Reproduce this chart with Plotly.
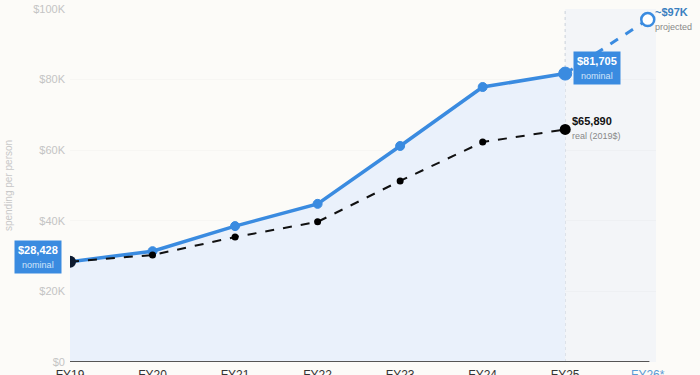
import plotly.graph_objects as go

years = ["FY19", "FY20", "FY21", "FY22", "FY23", "FY24", "FY25", "FY26*"]
nominal = [28428, 31400, 38500, 44800, 61200, 77900, 81705]
real = [28428, 30300, 35400, 39700, 51300, 62300, 65890]
projected = [81705, 97000]
y_ticks = [0, 20000, 40000, 60000, 80000, 100000]
y_labels = ["$0", "$20K", "$40K", "$60K", "$80K", "$100K"]

BLUE = "#3a8be0"
BG = "#fcfbf8"
xs = list(range(len(years)))
n_hist = len(nominal)

fig = go.Figure()

# projected region shading
fig.add_shape(type="rect", xref="x", yref="y", x0=n_hist - 1, x1=7.1, y0=0, y1=100000,
              fillcolor="#f3f5f8", line_width=0, layer="below")

# divider line at FY25
fig.add_shape(type="line", xref="x", yref="y", x0=n_hist - 1, x1=n_hist - 1, y0=0, y1=100000,
              line=dict(color="#d9dee4", width=1.5, dash="dot"), layer="below")

# fill under nominal
fig.add_trace(go.Scatter(x=xs[:n_hist], y=nominal, mode="lines", line=dict(width=0),
                         fill="tozeroy", fillcolor="#eaf1fb", hoverinfo="skip", showlegend=False))

# projected dashed segment
fig.add_trace(go.Scatter(x=xs[n_hist - 1:], y=projected, mode="lines",
                         line=dict(color=BLUE, width=3, dash="dash"), showlegend=False))

# nominal line
fig.add_trace(go.Scatter(x=xs[:n_hist], y=nominal, mode="lines+markers",
                         line=dict(color=BLUE, width=3.5),
                         marker=dict(color=BLUE, size=[10, 9, 9, 9, 9, 9, 13],
                                     line=dict(width=1, color=BLUE), opacity=1),
                         showlegend=False))

# projected marker
fig.add_trace(go.Scatter(x=[xs[-1]], y=[projected[-1]], mode="markers",
                         marker=dict(color="white", size=13, line=dict(color=BLUE, width=2.5)),
                         showlegend=False))

# real line
fig.add_trace(go.Scatter(x=xs[:n_hist], y=real, mode="lines+markers",
                         line=dict(color="#111111", width=2, dash="dash"),
                         marker=dict(color=["#0d1a2e"] + ["#000000"] * 6,
                                     size=[12, 7, 7, 7, 7, 7, 11], line=dict(width=0), opacity=1),
                         showlegend=False))

# axis baseline
fig.add_shape(type="line", xref="x", yref="y", x0=-0.03, x1=7.02, y0=0, y1=0,
              line=dict(color="#555555", width=2))

anns = [
    dict(x=0, y=nominal[0], xanchor="right", yanchor="middle", xshift=-8, yshift=5,
         text="<b>$28,428</b><br><span style='font-size:9px;color:#d2e5fa'>nominal</span>",
         bgcolor=BLUE, font=dict(color="white", size=11), borderpad=3, showarrow=False),
    dict(x=n_hist - 1, y=nominal[-1], xanchor="left", yanchor="middle", xshift=8, yshift=6,
         text="<b>$81,705</b><br><span style='font-size:9px;color:#d2e5fa'>nominal</span>",
         bgcolor=BLUE, font=dict(color="white", size=11), borderpad=3, showarrow=False),
    dict(x=xs[-1], y=projected[-1], xanchor="left", yanchor="middle", xshift=5, yshift=1,
         text="<b>~$97K</b><br><span style='font-size:9px;color:#888888'>projected</span>",
         font=dict(color="#3a7fc0", size=11), showarrow=False, align="left"),
    dict(x=n_hist - 1, y=real[-1], xanchor="left", yanchor="middle", xshift=5, yshift=1,
         text="<b>$65,890</b><br><span style='font-size:9px;color:#888888'>real (2019$)</span>",
         font=dict(color="#111111", size=11), showarrow=False, align="left"),
]

ticktext = [y for y in years[:-1]] + [f"<span style='color:#5b9bd5'>{years[-1]}</span>"]

fig.update_layout(
    width=700, height=375,
    margin=dict(l=70, r=44, t=9, b=13),
    paper_bgcolor=BG, plot_bgcolor=BG,
    font=dict(family="Liberation Sans, Arial, sans-serif"),
    annotations=anns,
    xaxis=dict(range=[0, 7.1], tickvals=xs, ticktext=ticktext, showgrid=False, zeroline=False,
               showline=False, ticks="", automargin=False, ticklabelstandoff=4,
               tickfont=dict(size=12, color="#333333")),
    yaxis=dict(range=[0, 100000], tickvals=y_ticks, ticktext=y_labels, showgrid=True,
               gridcolor="rgba(0,0,0,0.02)", zeroline=False, showline=False, ticks="",
               automargin=False, ticklabelstandoff=4,
               tickfont=dict(size=11, color="#c4c4c4"),
               title=dict(text="spending per person", font=dict(size=10, color="#c8c8c8"), standoff=18)),
)

fig.write_html("out.html")
